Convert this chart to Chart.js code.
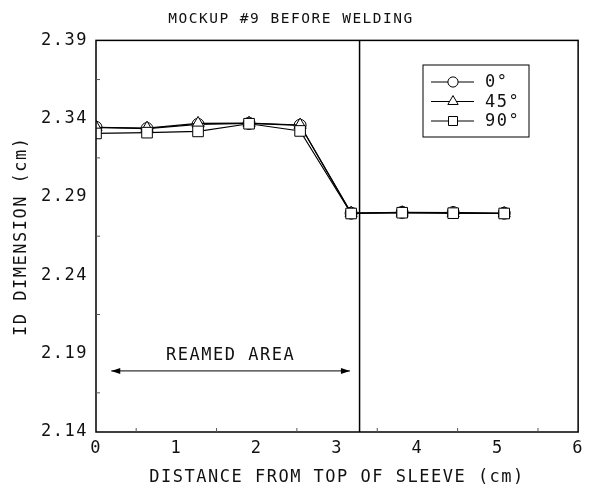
<!DOCTYPE html>
<html>
<head>
<meta charset="utf-8">
<script src="https://cdn.jsdelivr.net/npm/chart.js@4/dist/chart.umd.min.js"></script>
<style>
    html, body { margin: 0; padding: 0; background: #fff; }
    canvas { display: block; }
</style>
</head>
<body>
<canvas id="mockup-chart" width="590" height="488"></canvas>
<script>
// distance from top of sleeve (cm) - measured every 1/4 inch
const positions = [0, 0.635, 1.27, 1.905, 2.54, 3.175, 3.81, 4.445, 5.08];
const id0 = [2.3345, 2.3337, 2.3364, 2.3370, 2.3358, 2.2797, 2.2802, 2.2801, 2.2797];
const id45 = [2.3345, 2.3340, 2.3370, 2.3372, 2.3360, 2.2797, 2.2800, 2.2797, 2.2795];
const id90 = [2.3306, 2.3311, 2.3319, 2.3368, 2.3322, 2.2795, 2.2800, 2.2797, 2.2795];
const seriesLabels = ['0°', '45°', '90°'];

const xTicks = [0, 1, 2, 3, 4, 5, 6];
const yTicks = [2.14, 2.19, 2.24, 2.29, 2.34, 2.39];

const sleeveTopX = 3.28;
const reamedFrom = 0.19;
const reamedTo = 3.16;
const reamedY = 2.179;
const reamedLabelY = 2.1885;

const FONT = '"DejaVu Sans Mono", "Liberation Mono", monospace';

function toPoints(values) {
    return positions.map((x, i) => ({ x, y: values[i] }));
}

function series(label, values, pointStyle, radius, order) {
    return {
        label,
        data: toPoints(values),
        borderColor: '#000',
        borderWidth: 1.2,
        tension: 0,
        pointStyle,
        pointRadius: radius,
        pointBackgroundColor: '#fff',
        pointBorderColor: '#000',
        pointBorderWidth: 1,
        order,
    };
}

function drawMarker(ctx, style, r, x, y) {
    ctx.beginPath();
    if (style === 'circle') {
        ctx.arc(x, y, r, 0, Math.PI * 2);
    } else if (style === 'triangle') {
        ctx.moveTo(x, y - r);
        ctx.lineTo(x + r * 0.866, y + r * 0.5);
        ctx.lineTo(x - r * 0.866, y + r * 0.5);
        ctx.closePath();
    } else {
        const s = r * Math.SQRT1_2;
        ctx.rect(x - s, y - s, 2 * s, 2 * s);
    }
    ctx.fillStyle = '#fff';
    ctx.fill();
    ctx.strokeStyle = '#000';
    ctx.lineWidth = 1;
    ctx.stroke();
}

const spacing = {
    id: 'spacing',
    beforeLayout(chart) { chart.ctx.letterSpacing = '1.5px'; },
    beforeDraw(chart) { chart.ctx.letterSpacing = '1.5px'; },
};

const frame = {
    id: 'frame',
    afterDatasetsDraw(chart) {
        const { ctx, chartArea: a, scales } = chart;
        const xs = scales.x;
        const ys = scales.y;
        ctx.save();
        ctx.strokeStyle = '#000';
        ctx.lineWidth = 1.5;
        ctx.strokeRect(a.left, a.top, a.right - a.left, a.bottom - a.top);

        // sleeve top marker
        const sx = xs.getPixelForValue(sleeveTopX);
        ctx.beginPath();
        ctx.moveTo(sx, a.top);
        ctx.lineTo(sx, a.bottom);
        ctx.stroke();

        // minor ticks
        ctx.lineWidth = 1;
        ctx.strokeStyle = '#555';
        for (let i = 0; i < xTicks.length - 1; i++) {
            const px = xs.getPixelForValue((xTicks[i] + xTicks[i + 1]) / 2);
            ctx.beginPath();
            ctx.moveTo(px, a.bottom);
            ctx.lineTo(px, a.bottom - 4);
            ctx.stroke();
        }
        for (let i = 0; i < yTicks.length - 1; i++) {
            const py = ys.getPixelForValue((yTicks[i] + yTicks[i + 1]) / 2);
            ctx.beginPath();
            ctx.moveTo(a.left, py);
            ctx.lineTo(a.left + 4, py);
            ctx.stroke();
        }

        // reamed area arrow
        const x1 = xs.getPixelForValue(reamedFrom);
        const x2 = xs.getPixelForValue(reamedTo);
        const ay = ys.getPixelForValue(reamedY);
        ctx.strokeStyle = '#000';
        ctx.fillStyle = '#000';
        ctx.beginPath();
        ctx.moveTo(x1, ay);
        ctx.lineTo(x2, ay);
        ctx.stroke();
        ctx.beginPath();
        ctx.moveTo(x1, ay);
        ctx.lineTo(x1 + 9, ay - 3);
        ctx.lineTo(x1 + 9, ay + 3);
        ctx.closePath();
        ctx.fill();
        ctx.beginPath();
        ctx.moveTo(x2, ay);
        ctx.lineTo(x2 - 9, ay - 3);
        ctx.lineTo(x2 - 9, ay + 3);
        ctx.closePath();
        ctx.fill();
        ctx.font = '17px ' + FONT;
        ctx.fillStyle = '#111';
        ctx.textAlign = 'center';
        ctx.textBaseline = 'middle';
        ctx.fillText('REAMED AREA', (x1 + x2) / 2, ys.getPixelForValue(reamedLabelY));

        // legend box
        const lx = 423;
        const ly = 65;
        ctx.fillStyle = '#fff';
        ctx.fillRect(lx, ly, 106, 72);
        ctx.strokeStyle = '#000';
        ctx.lineWidth = 1;
        ctx.strokeRect(lx, ly, 106, 72);
        const styles = ['circle', 'triangle', 'rect'];
        const radii = [6, 7, 7.5];
        seriesLabels.forEach((label, i) => {
            const ry = ly + 17 + i * 19.5;
            ctx.beginPath();
            ctx.strokeStyle = '#000';
            ctx.lineWidth = 1;
            ctx.moveTo(lx + 8, ry);
            ctx.lineTo(lx + 51, ry);
            ctx.stroke();
            drawMarker(ctx, styles[i], radii[i] * 0.85, lx + 30, ry);
            ctx.fillStyle = '#111';
            ctx.textAlign = 'left';
            ctx.textBaseline = 'middle';
            ctx.fillText(label, lx + 62, ry + 1);
        });
        ctx.restore();
    },
};

new Chart(document.getElementById('mockup-chart'), {
    type: 'line',
    data: {
        datasets: [
            series(seriesLabels[0], id0, 'circle', 6, 2),
            series(seriesLabels[1], id45, 'triangle', 7, 1),
            series(seriesLabels[2], id90, 'rect', 7.5, 0),
        ],
    },
    options: {
        responsive: false,
        animation: false,
        events: [],
        layout: { padding: { left: 0, right: 8, top: 0, bottom: 0 } },
        plugins: {
            legend: { display: false },
            tooltip: { enabled: false },
            title: {
                display: true,
                text: 'MOCKUP #9 BEFORE WELDING',
                color: '#111',
                font: { family: FONT, size: 14.5, weight: 'normal', lineHeight: 1.2 },
                padding: { top: 11, bottom: 12 },
            },
        },
        scales: {
            x: {
                type: 'linear',
                min: 0,
                max: 6,
                afterBuildTicks(scale) {
                    scale.ticks = xTicks.map((v) => ({ value: v }));
                },
                afterFit(scale) {
                    scale.height = 56;
                },
                grid: { display: false, drawTicks: false },
                border: { display: false },
                ticks: {
                    color: '#111',
                    padding: 6,
                    maxRotation: 0,
                    font: { family: FONT, size: 17 },
                    callback: (v) => String(v),
                },
                title: {
                    display: true,
                    text: 'DISTANCE FROM TOP OF SLEEVE (cm)',
                    color: '#111',
                    font: { family: FONT, size: 17, lineHeight: 1.2 },
                    padding: { top: 0, bottom: 0 },
                },
            },
            y: {
                type: 'linear',
                min: 2.14,
                max: 2.39,
                afterBuildTicks(scale) {
                    scale.ticks = yTicks.map((v) => ({ value: v }));
                },
                afterFit(scale) {
                    scale.width = 96;
                },
                grid: { display: false, drawTicks: false },
                border: { display: false },
                ticks: {
                    color: '#111',
                    padding: 8,
                    font: { family: FONT, size: 17 },
                    callback: (v) => Number(v).toFixed(2),
                },
                title: {
                    display: true,
                    text: 'ID DIMENSION (cm)',
                    color: '#111',
                    font: { family: FONT, size: 17, lineHeight: 1.2 },
                    padding: { top: 11, bottom: 0 },
                },
            },
        },
    },
    plugins: [spacing, frame],
});
</script>
</body>
</html>
